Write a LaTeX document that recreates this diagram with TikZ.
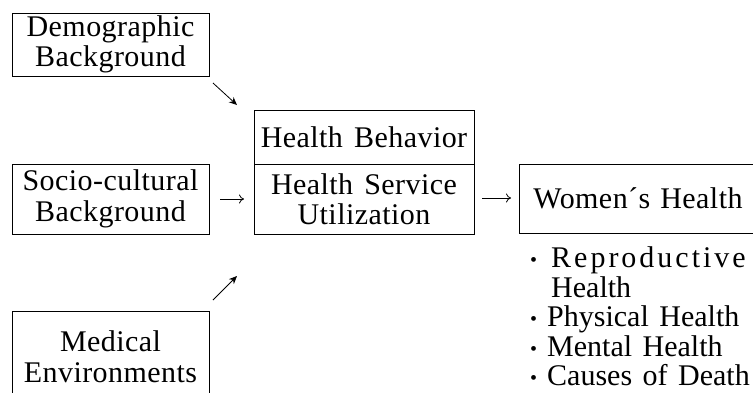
\documentclass[tikz,border=0pt]{standalone}
\usepackage{fontspec}
\setmainfont[LetterSpace=1.5, WordSpace=1.4]{Liberation Serif}
\usepackage{tikz}
\usetikzlibrary{
    arrows.meta,
    positioning
}

\newcommand{\itm}{\makebox[17pt][l]{\raisebox{1pt}{\fontsize{20}{20}\selectfont\textbullet}}}

\begin{document}
\begin{tikzpicture}[x=1pt, y=-1pt,
    box/.style={draw, line width=0.8pt, align=center, inner sep=0pt, minimum width=197pt},
    flow/.style={-{To[length=5pt, width=9pt]}, line width=0.8pt},
    tilt/.style={-{Stealth[length=8pt, width=7pt]}, line width=0.8pt},
    every node/.style={font=\fontsize{30}{30.5}\selectfont}]
                        \clip (0,0) rectangle (753,392);

                        \node[box, minimum height=63pt] (demo) at (110.5, 44.5) {Demographic\\Background};
                        \node[box, minimum height=70pt] (socio) at (110.5, 199) {Socio-cultural\\Background};
                        \node[box, minimum height=91pt] (medical) at (110.5, 356.5) {Medical\\Environments};
                        \node[box, minimum width=220pt, minimum height=54pt] (behavior) at (364, 137) {Health Behavior};
                        \node[box, minimum width=220pt, minimum height=70pt] (service) at (364, 199) {Health Service\\Utilization};
                        \node[box, anchor=west, minimum height=69pt, text width=232pt, inner xsep=14pt, align=left] (women) at (519, 198.5) {Women´s Health};
                        \node[anchor=north west, inner sep=0pt, align=left, font=\fontsize{30}{29.5}\selectfont\addfontfeature{LetterSpace=0}] (outcomes) at (530, 246.5)
                            {\makebox[21pt][l]{\raisebox{1pt}{\fontsize{20}{20}\selectfont\textbullet}}{\addfontfeature{LetterSpace=10}Reproductive}\\
                             \hspace*{21pt}Health\\
                             \itm Physical Health\\
                             \itm Mental Health\\
                             \itm Causes of Death};

                        \coordinate (d1) at (213, 83);
                        \coordinate (d2) at (237, 105);
                        \coordinate (s1) at (220, 199);
                        \coordinate (s2) at (244, 199);
                        \coordinate (m1) at (213, 300);
                        \coordinate (m2) at (237, 276);
                        \coordinate (w1) at (482, 198);
                        \coordinate (w2) at (511, 198);

                        \draw[tilt] (d1) -- (d2);
                        \draw[tilt] (m1) -- (m2);
                        \draw[flow] (s1) -- (s2);
                        \draw[flow] (w1) -- (w2);
                    \end{tikzpicture}
\end{document}
